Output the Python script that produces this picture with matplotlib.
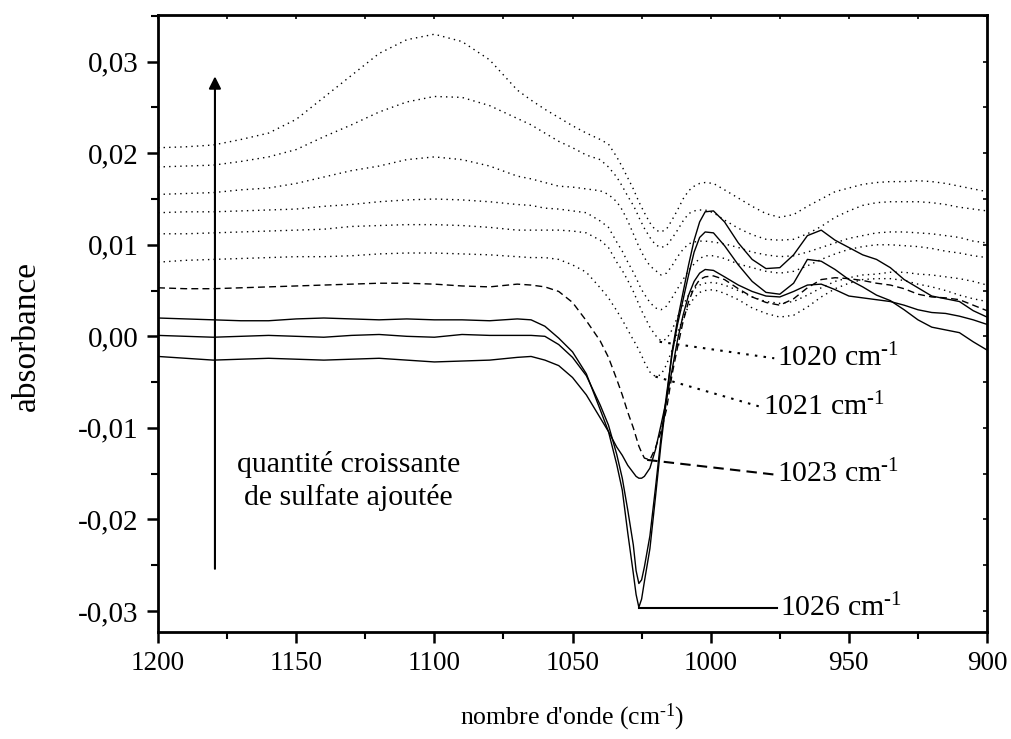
import matplotlib
matplotlib.use("Agg")
import matplotlib.pyplot as plt
from matplotlib.ticker import MultipleLocator, FuncFormatter

plt.rcParams['font.family'] = ['Liberation Serif', 'DejaVu Serif']
plt.rcParams['mathtext.fontset'] = 'custom'
plt.rcParams['mathtext.rm'] = 'Liberation Serif'
plt.rcParams['mathtext.it'] = 'Liberation Serif:italic'

# wavenumber grid (cm-1)
wavenumber = [1200, 1190, 1180, 1170, 1160, 1150, 1140, 1130, 1120, 1110, 1100, 1090, 1080, 1070,
              1065, 1060, 1055, 1050, 1045, 1040,
              1037, 1034,
              1032, 1030, 1028, 1027, 1026, 1025, 1024, 1022, 1020, 1018, 1016, 1014, 1012, 1010, 1008, 1006, 1004, 1002,
              999,
              995, 990, 985, 980, 975, 970, 965, 960, 955, 950, 945, 940, 935, 930, 925, 920, 915, 910, 905, 900]

# dotted spectra (top to bottom)
dot1 = [0.0206, 0.0207, 0.0209, 0.0215, 0.0222, 0.0237, 0.0261, 0.0285, 0.0309, 0.0324, 0.0330, 0.0322, 0.0302, 0.0269,
        0.0258, 0.0248, 0.0239, 0.0230, 0.0222, 0.0215,
        0.0210, 0.0196,
        0.0185, 0.0173, 0.0161, 0.0154, 0.0147, 0.0141, 0.0135, 0.0124, 0.0116, 0.0114, 0.0117, 0.0127, 0.0138, 0.0150, 0.0159, 0.0164, 0.0167, 0.0168,
        0.0167,
        0.0160, 0.0151, 0.0142, 0.0134, 0.0130, 0.0133, 0.0142, 0.0150, 0.0158, 0.0162, 0.0166, 0.0168, 0.0169, 0.0169, 0.0170, 0.0169, 0.0167, 0.0164, 0.0161, 0.0158]
dot2 = [0.0185, 0.0186, 0.0187, 0.0191, 0.0196, 0.0204, 0.0218, 0.0231, 0.0245, 0.0256, 0.0262, 0.0261, 0.0252, 0.0238,
        0.0231, 0.0222, 0.0213, 0.0206, 0.0198, 0.0193,
        0.0185, 0.0174,
        0.0164, 0.0153, 0.0143, 0.0137, 0.0130, 0.0124, 0.0118, 0.0108, 0.0100, 0.0097, 0.0099, 0.0107, 0.0116, 0.0126, 0.0134, 0.0137, 0.0138, 0.0138,
        0.0135,
        0.0127, 0.0118, 0.0111, 0.0106, 0.0105, 0.0106, 0.0112, 0.0120, 0.0130, 0.0137, 0.0143, 0.0146, 0.0147, 0.0147, 0.0147, 0.0146, 0.0144, 0.0141, 0.0139, 0.0137]
dot3 = [0.0155, 0.0156, 0.0157, 0.0160, 0.0162, 0.0167, 0.0174, 0.0181, 0.0186, 0.0193, 0.0196, 0.0193, 0.0186, 0.0175,
        0.0172, 0.0168, 0.0164, 0.0163, 0.0161, 0.0159,
        0.0155, 0.0147,
        0.0138, 0.0126, 0.0112, 0.0105, 0.0098, 0.0092, 0.0086, 0.0077, 0.0072, 0.0067, 0.0069, 0.0077, 0.0087, 0.0095, 0.0101, 0.0103, 0.0104, 0.0104,
        0.0103,
        0.0101, 0.0097, 0.0092, 0.0089, 0.0087, 0.0088, 0.0092, 0.0097, 0.0102, 0.0107, 0.0110, 0.0113, 0.0114, 0.0114, 0.0113, 0.0112, 0.0110, 0.0108, 0.0104, 0.0102]
dot4 = [0.0135, 0.0136, 0.0136, 0.0137, 0.0138, 0.0139, 0.0142, 0.0144, 0.0147, 0.0149, 0.0150, 0.0149, 0.0147, 0.0144,
        0.0143, 0.0140, 0.0139, 0.0137, 0.0135, 0.0126,
        0.0119, 0.0103,
        0.0093, 0.0081, 0.0070, 0.0064, 0.0057, 0.0051, 0.0046, 0.0037, 0.0031, 0.0029, 0.0033, 0.0042, 0.0052, 0.0062, 0.0072, 0.0079, 0.0085, 0.0088,
        0.0088,
        0.0085, 0.0079, 0.0075, 0.0071, 0.0069, 0.0071, 0.0077, 0.0084, 0.0090, 0.0095, 0.0098, 0.0100, 0.0100, 0.0099, 0.0098, 0.0096, 0.0093, 0.0091, 0.0088, 0.0086]
dot5 = [0.0112, 0.0112, 0.0113, 0.0114, 0.0115, 0.0116, 0.0117, 0.0120, 0.0121, 0.0122, 0.0122, 0.0121, 0.0119, 0.0116,
        0.0116, 0.0116, 0.0116, 0.0115, 0.0113, 0.0105,
        0.0097, 0.0081,
        0.0072, 0.0061, 0.0049, 0.0042, 0.0035, 0.0028, 0.0022, 0.0010, 0.0001, -0.0005, -0.0003, 0.0007, 0.0021, 0.0034, 0.0045, 0.0052, 0.0056, 0.0058,
        0.0059,
        0.0056, 0.0050, 0.0043, 0.0038, 0.0036, 0.0038, 0.0045, 0.0053, 0.0060, 0.0064, 0.0067, 0.0068, 0.0070, 0.0070, 0.0068, 0.0067, 0.0065, 0.0063, 0.0060, 0.0056]
dot6 = [0.0081, 0.0083, 0.0084, 0.0085, 0.0086, 0.0087, 0.0087, 0.0088, 0.0090, 0.0091, 0.0091, 0.0090, 0.0089, 0.0087,
        0.0086, 0.0086, 0.0084, 0.0078, 0.0070, 0.0053,
        0.0042, 0.0028,
        0.0018, 0.0007, -0.0004, -0.0009, -0.0015, -0.0021, -0.0028, -0.0039, -0.0044, -0.0042, -0.0031, -0.0015, 0.0004, 0.0020, 0.0033, 0.0042, 0.0048, 0.0050,
        0.0051,
        0.0047, 0.0040, 0.0031, 0.0025, 0.0021, 0.0023, 0.0032, 0.0043, 0.0052, 0.0058, 0.0062, 0.0063, 0.0063, 0.0061, 0.0057, 0.0054, 0.0050, 0.0045, 0.0041, 0.0038]
# dashed spectrum
dash1 = [0.0053, 0.0052, 0.0052, 0.0053, 0.0054, 0.0055, 0.0056, 0.0057, 0.0058, 0.0058, 0.0057, 0.0055, 0.0054, 0.0057,
         0.0056, 0.0054, 0.0049, 0.0037, 0.0017, -0.0005,
         -0.0023, -0.0047,
         -0.0064, -0.0083, -0.0100, -0.0110, -0.0120, -0.0127, -0.0133, -0.0135, -0.0122, -0.0104, -0.0080, -0.0042, -0.0012, 0.0016, 0.0038, 0.0053, 0.0062, 0.0065,
         0.0066,
         0.0062, 0.0052, 0.0043, 0.0037, 0.0034, 0.0041, 0.0053, 0.0062, 0.0064, 0.0063, 0.0061, 0.0058, 0.0056, 0.0052, 0.0046, 0.0043, 0.0042, 0.0040, 0.0034, 0.0028]
# solid spectra
sol1 = [0.0020, 0.0019, 0.0018, 0.0017, 0.0017, 0.0019, 0.0020, 0.0019, 0.0018, 0.0019, 0.0018, 0.0018, 0.0017, 0.0019,
        0.0018, 0.0011, -0.0002, -0.0017, -0.0041, -0.0080,
        -0.0104, -0.0140,
        -0.0168, -0.0215, -0.0259, -0.0282, -0.0296, -0.0287, -0.0268, -0.0232, -0.0176, -0.0118, -0.0069, -0.0017, 0.0018, 0.0048, 0.0078, 0.0105, 0.0125, 0.0136,
        0.0137,
        0.0125, 0.0102, 0.0084, 0.0074, 0.0075, 0.0089, 0.0110, 0.0116, 0.0105, 0.0097, 0.0089, 0.0084, 0.0075, 0.0062, 0.0053, 0.0044, 0.0041, 0.0038, 0.0028, 0.0021]
sol2 = [0.0001, 0.0000, -0.0001, 0.0000, 0.0001, 0.0000, -0.0001, 0.0001, 0.0002, 0.0000, -0.0001, 0.0002, 0.0001, 0.0001,
        0.0001, 0.0000, -0.0009, -0.0023, -0.0043, -0.0075,
        -0.0097, -0.0129,
        -0.0155, -0.0190, -0.0228, -0.0256, -0.0270, -0.0266, -0.0252, -0.0218, -0.0166, -0.0111, -0.0064, -0.0020, 0.0013, 0.0040, 0.0067, 0.0092, 0.0108, 0.0114,
        0.0113,
        0.0099, 0.0078, 0.0060, 0.0048, 0.0046, 0.0058, 0.0084, 0.0082, 0.0073, 0.0062, 0.0054, 0.0045, 0.0039, 0.0029, 0.0018, 0.0010, 0.0007, 0.0004, -0.0006, -0.0015]
sol3 = [-0.0022, -0.0024, -0.0026, -0.0025, -0.0024, -0.0025, -0.0026, -0.0025, -0.0024, -0.0026, -0.0028, -0.0027, -0.0026, -0.0023,
        -0.0022, -0.0026, -0.0032, -0.0045, -0.0064, -0.0089,
        -0.0104, -0.0121,
        -0.0130, -0.0141, -0.0149, -0.0153, -0.0155, -0.0155, -0.0153, -0.0144, -0.0124, -0.0097, -0.0069, -0.0037, -0.0004, 0.0023, 0.0045, 0.0060, 0.0069, 0.0073,
        0.0072,
        0.0065, 0.0056, 0.0049, 0.0044, 0.0043, 0.0049, 0.0056, 0.0057, 0.0051, 0.0044, 0.0042, 0.0040, 0.0038, 0.0034, 0.0029, 0.0026, 0.0025, 0.0022, 0.0018, 0.0013]

# peak annotations: label, leader start (band minimum) and leader end
ann_labels = [r'1020 cm$^{\text{-1}}$', r'1021 cm$^{\text{-1}}$', r'1023 cm$^{\text{-1}}$', r'1026 cm$^{\text{-1}}$']
ann_min_x = [1018.5, 1020, 1023, 1026]
ann_min_y = [-0.0006, -0.0044, -0.0135, -0.0297]
ann_end_x = [977, 982, 977, 976]
ann_end_y = [-0.0024, -0.0077, -0.0151, -0.0297]

fig = plt.figure(figsize=(10.11, 7.39), dpi=100)
ax = fig.add_axes([0.1563, 0.1448, 0.8200, 0.8349])

for ys in [dot1, dot2, dot3, dot4, dot5, dot6]:
    ax.plot(wavenumber, ys, color='black', lw=1.0, linestyle=(0, (1, 3)))
ax.plot(wavenumber, dash1, color='black', lw=1.0, linestyle=(0, (5, 3)))
for ys in [sol1, sol2, sol3]:
    ax.plot(wavenumber, ys, color='black', lw=1.0, linestyle='-')

styles = [(0, (1.2, 3)), (0, (1.2, 3)), (0, (5, 3)), '-']
for lab, x0, y0, x1, y1, ls in zip(ann_labels, ann_min_x, ann_min_y, ann_end_x, ann_end_y, styles):
    ax.plot([x0, x1], [y0, y1], color='black', lw=1.5, linestyle=ls)
    ax.text(x1 - 1.0, y1, lab, fontsize=21.5, ha='left', va='center')

ax.annotate('', xy=(1179.4, 0.0287), xytext=(1179.4, -0.0257),
            arrowprops=dict(arrowstyle='-|>', color='black', lw=1.5, mutation_scale=18))
ax.text(1131, -0.0158, 'quantité croissante\nde sulfate ajoutée', fontsize=21.5,
        ha='center', va='center', linespacing=1.3)

ax.set_xlim(1200, 900)
ax.set_ylim(-0.0323, 0.0351)
ax.xaxis.set_major_locator(MultipleLocator(50))
ax.xaxis.set_minor_locator(MultipleLocator(25))
ax.yaxis.set_major_locator(MultipleLocator(0.01))
ax.yaxis.set_minor_locator(MultipleLocator(0.005))
ax.yaxis.set_major_formatter(FuncFormatter(lambda v, p: f"{v:.2f}".replace('.', ',').replace('-0,00', '0,00')))
ax.xaxis.set_major_formatter(FuncFormatter(lambda v, p: f"{int(round(v))}"))
ax.tick_params(which='major', direction='out', length=8, width=1.8, pad=6)
ax.tick_params(which='minor', direction='out', length=5, width=1.5)
ax.tick_params(axis='x', which='major', labelsize=19.5)
ax.tick_params(axis='y', which='major', labelsize=21)
for s in ax.spines.values():
    s.set_linewidth(2.0)

sx = ax.secondary_xaxis('top')
sx.xaxis.set_major_locator(MultipleLocator(25))
sx.tick_params(direction='in', length=3, width=1.2, labeltop=False)
sy = ax.secondary_yaxis('right')
sy.yaxis.set_major_locator(MultipleLocator(0.005))
sy.tick_params(direction='in', length=3, width=1.2, labelright=False)

ax.set_xlabel(r"nombre d'onde (cm$^{\text{-1}}$)", fontsize=18.5)
ax.xaxis.set_label_coords(0.5, -0.113)
ax.set_ylabel('absorbance', fontsize=24)
ax.yaxis.set_label_coords(-0.140, 0.480)

fig.savefig('out.png', dpi=100)
